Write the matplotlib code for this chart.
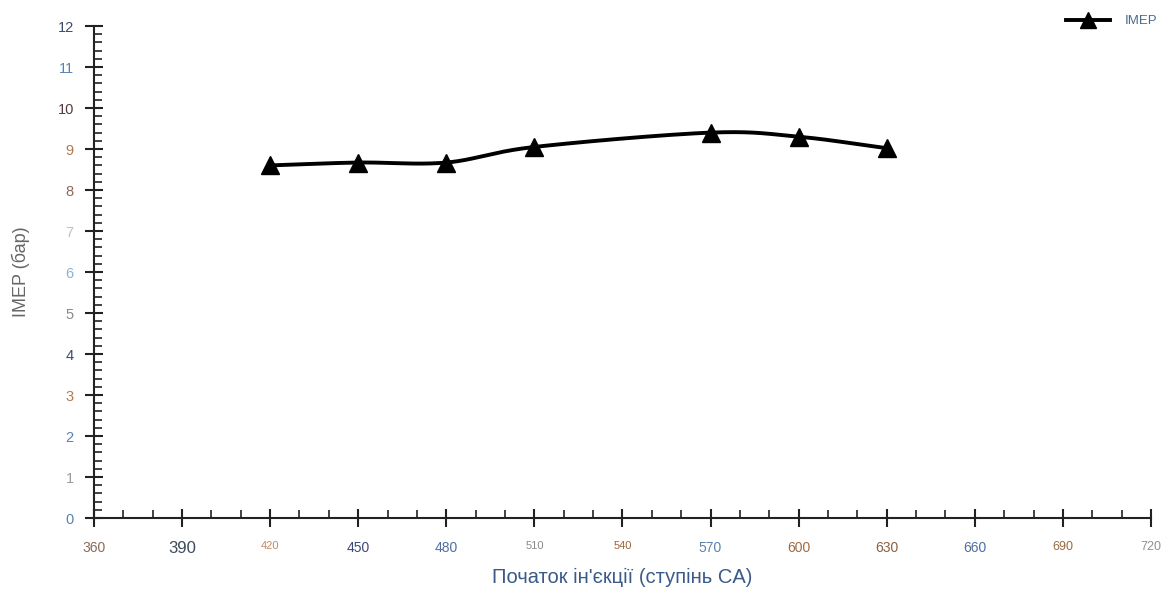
import matplotlib.pyplot as plt
import numpy as np
from matplotlib.ticker import MultipleLocator

plt.rcParams['font.family'] = ['Liberation Sans', 'DejaVu Sans']

# Дані
kut = [420, 450, 480, 510, 570, 600, 630]
imep = [8.6, 8.67, 8.67, 9.05, 9.4, 9.3, 9.02]

x_ticks = [360, 390, 420, 450, 480, 510, 540, 570, 600, 630, 660, 690, 720]
y_ticks = [0, 1, 2, 3, 4, 5, 6, 7, 8, 9, 10, 11, 12]

# кольори підписів (у оригіналі вони різнокольорові)
x_colors = ['#8a6a55', '#3c4a5c', '#c08a60', '#3a4a78', '#4f6fa0', '#8a8a8a', '#a0603c',
            '#5a82b0', '#a06a40', '#8a6040', '#4f6fa0', '#9a6a40', '#909090']
x_sizes = [10, 12, 8, 10, 10, 8, 8, 10, 10, 10, 10, 9, 9]
y_colors = ['#5a82b0', '#9a9a9a', '#5a82b0', '#b07a50', '#3a4a78', '#8a8a8a', '#8fb0d0',
            '#c0c0c0', '#8a6a55', '#b07a50', '#5a3a3a', '#5a82b0', '#3c4a6c']


def catmull_rom(x, y, n=30):
    # згладжена крива як в Excel
    x = np.asarray(x, float)
    y = np.asarray(y, float)
    px = np.concatenate([[2 * x[0] - x[1]], x, [2 * x[-1] - x[-2]]])
    py = np.concatenate([[2 * y[0] - y[1]], y, [2 * y[-1] - y[-2]]])
    xs, ys = [], []
    t = np.linspace(0, 1, n)
    for i in range(1, len(px) - 2):
        for p, out in ((px, xs), (py, ys)):
            p0, p1, p2, p3 = p[i - 1], p[i], p[i + 1], p[i + 2]
            out.append(0.5 * ((2 * p1) + (-p0 + p2) * t +
                              (2 * p0 - 5 * p1 + 4 * p2 - p3) * t ** 2 +
                              (-p0 + 3 * p1 - 3 * p2 + p3) * t ** 3))
    return np.concatenate(xs), np.concatenate(ys)


fig = plt.figure(figsize=(11.73, 6.05), dpi=100)
ax = fig.add_axes([0.0801, 0.1438, 0.9011, 0.8132])

xs, ys = catmull_rom(kut, imep)
ax.plot(xs, ys, color='black', linewidth=2.8, solid_capstyle='round', zorder=2)
ax.plot(kut, imep, linestyle='none', marker='^', markersize=13, color='black', zorder=3)

ax.set_xlim(360, 720)
ax.set_ylim(0, 12)
ax.set_xticks(x_ticks)
ax.set_yticks(y_ticks)
ax.xaxis.set_minor_locator(MultipleLocator(10))
ax.yaxis.set_minor_locator(MultipleLocator(0.2))

for s in ['top', 'right']:
    ax.spines[s].set_visible(False)
for s in ['left', 'bottom']:
    ax.spines[s].set_linewidth(1.5)
    ax.spines[s].set_color('#222222')

ax.tick_params(which='major', direction='inout', length=13, width=1.5, color='#222222')
ax.tick_params(which='minor', direction='in', length=6, width=1.2, color='#222222')
ax.tick_params(axis='x', which='major', pad=10)
ax.tick_params(axis='y', which='major', pad=8)

ax.set_xticklabels([str(v) for v in x_ticks])
ax.set_yticklabels([str(v) for v in y_ticks])
for lbl, c, fs in zip(ax.get_xticklabels(), x_colors, x_sizes):
    lbl.set_color(c)
    lbl.set_fontsize(fs)
for lbl, c in zip(ax.get_yticklabels(), y_colors):
    lbl.set_color(c)
    lbl.set_fontsize(10.5)

ax.set_xlabel("Початок ін'єкції (ступінь CA)", fontsize=14.5, color='#3a5a88', labelpad=9)
ax.set_ylabel('IMEP (бар)', fontsize=13, color='#666666', labelpad=20)

# легенда вгорі праворуч
fig.legend(handles=[plt.Line2D([], [], color='black', linewidth=2.8, marker='^', markersize=12)],
           labels=['IMEP'], loc='upper right', bbox_to_anchor=(0.997, 0.995), frameon=False,
           fontsize=9.5, labelcolor='#4a6a90', handlelength=3.4, handletextpad=1.1)

plt.savefig('out.png', dpi=100)
